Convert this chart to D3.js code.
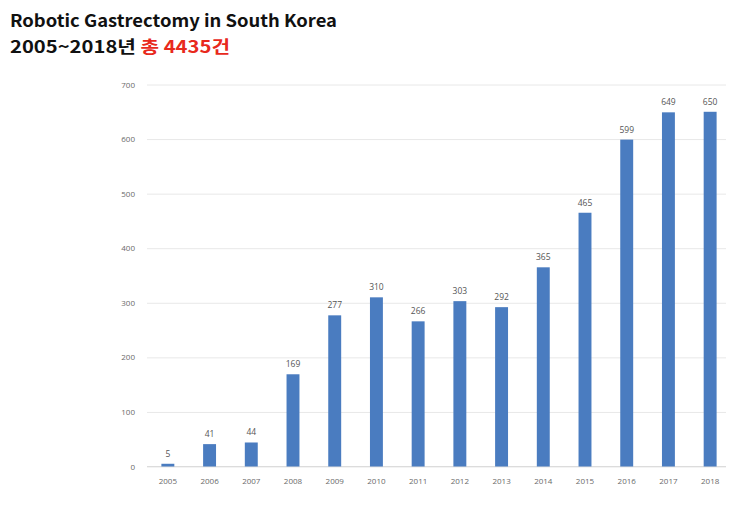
<!DOCTYPE html>
<html><head><meta charset="utf-8">
<script src="https://cdn.jsdelivr.net/npm/d3@7"></script>
<style>body{margin:0;background:#fff}</style>
</head><body>
<svg id="c" width="741" height="506"></svg>
<script>
const years = ["2005","2006","2007","2008","2009","2010","2011","2012","2013","2014","2015","2016","2017","2018"];
const cases = [5,41,44,169,277,310,266,303,292,365,465,599,649,650];
const yTicks = [0,100,200,300,400,500,600,700];
const titleLine1 = "Robotic Gastrectomy in South Korea";
const titleLine2a = "2005~2018년 ";
const titleLine2b = "총 4435건";

const svg = d3.select("#c");
const m = {left:147, right:731, top:84.5, bottom:466.5};
const x = d3.scaleBand().domain(years).range([m.left, m.right]).paddingInner(0.69).paddingOuter(0.345);
const y = d3.scaleLinear().domain([0,700]).range([m.bottom, m.top]);

const yAxis = d3.axisLeft(y).tickValues(yTicks).tickSize(-(726-m.left)).tickPadding(12);
const gy = svg.append("g").attr("transform",`translate(${m.left},0)`).call(yAxis);
gy.select(".domain").remove();
gy.selectAll(".tick line").attr("stroke","#e8e8e8").attr("stroke-width",1);
gy.selectAll(".tick text").attr("fill","#6a6a6a").style("font-family","'Open Sans', sans-serif").style("font-size","8px");

svg.append("line").attr("x1",m.left).attr("x2",726).attr("y1",y(0)).attr("y2",y(0)).attr("stroke","#dcdcdc");

const xAxis = d3.axisBottom(x).tickSize(0).tickPadding(12);
const gx = svg.append("g").attr("transform",`translate(0,${m.bottom})`).call(xAxis);
gx.select(".domain").remove();
gx.selectAll(".tick text").attr("fill","#6a6a6a").style("font-family","'Open Sans', sans-serif").style("font-size","8px");

svg.append("g").selectAll("rect").data(cases).join("rect")
  .attr("x",(d,i)=>x(years[i])).attr("width",x.bandwidth())
  .attr("y",d=>y(d)).attr("height",d=>y(0)-y(d)).attr("fill","#4a7cc0");

svg.append("g").selectAll("text").data(cases).join("text")
  .attr("x",(d,i)=>x(years[i])+x.bandwidth()/2).attr("y",d=>y(d)-7)
  .attr("text-anchor","middle").attr("fill","#555")
  .style("font-family","'Open Sans', sans-serif").style("font-size","8.5px")
  .text(d=>d);

const tf = "'Noto Sans CJK KR','Noto Sans',sans-serif";
svg.append("text").attr("x",10).attr("y",27).attr("fill","#111")
  .style("font-family",tf).style("font-weight","bold").style("font-size","17px")
  .attr("textLength",327).attr("lengthAdjust","spacingAndGlyphs").text(titleLine1);
const t2 = svg.append("text").attr("x",10).attr("y",53).style("font-family",tf).style("font-weight","bold").style("font-size","17px")
  .attr("textLength",220).attr("lengthAdjust","spacingAndGlyphs");
t2.append("tspan").attr("fill","#111").text(titleLine2a);
t2.append("tspan").attr("fill","#e8291c").text(titleLine2b);
</script>
</body></html>
